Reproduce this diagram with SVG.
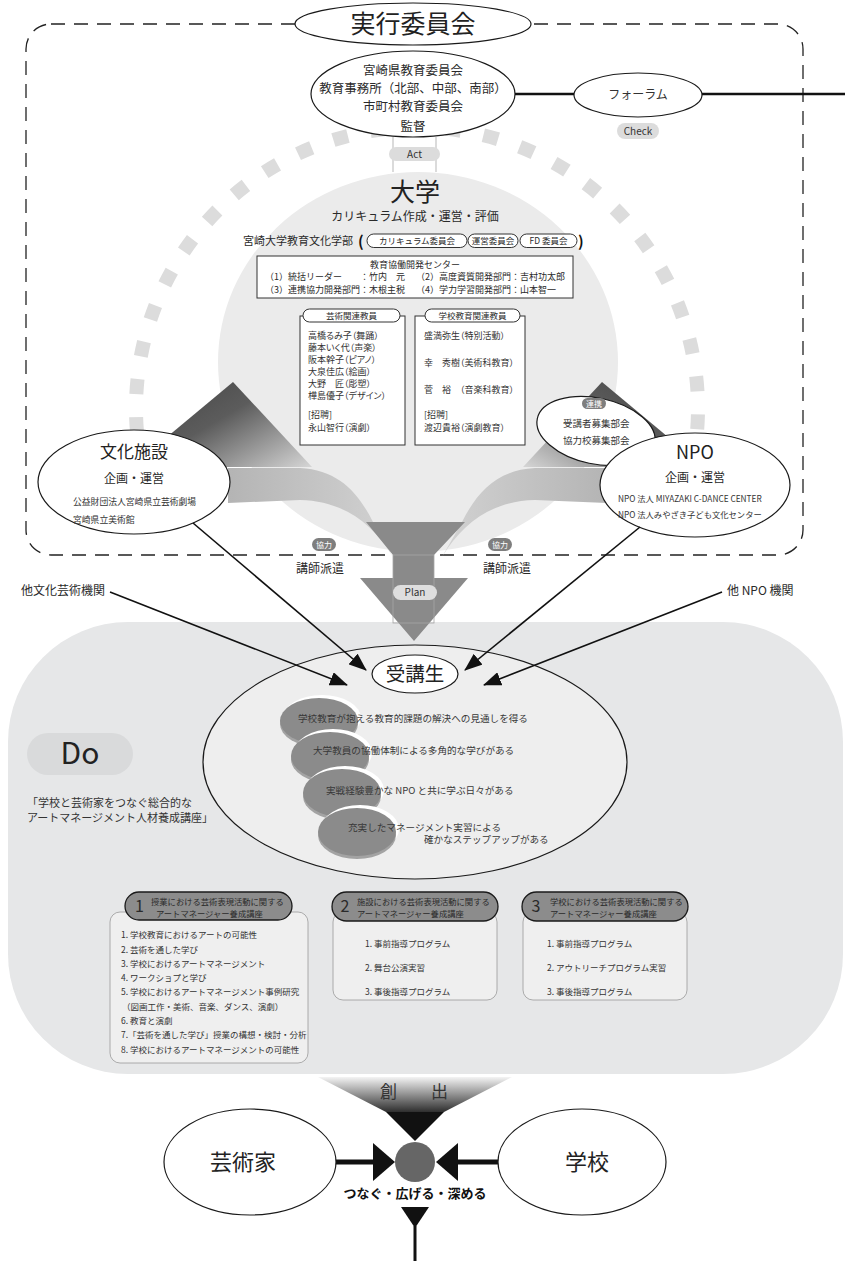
<svg xmlns="http://www.w3.org/2000/svg" width="845" height="1261" viewBox="0 0 845 1261">
<defs>
<style>
text{font-family:"Noto Sans CJK JP","Noto Sans",sans-serif;fill:#2a2a2a}
.c{text-anchor:middle}
.ol{fill:#fff;stroke:#1a1a1a;stroke-width:1.2}
.pill{fill:#dcdcdc}
.tag{fill:#7e7e7e}
.tagt{fill:#fff;font-size:8px;text-anchor:middle}
.box{fill:#fff;stroke:#333;stroke-width:1}
.cap{fill:#fff;stroke:#333;stroke-width:1}
.conn{stroke:#111;stroke-width:1.6;fill:none}
.hdr{fill:#8c8c8c;stroke:#1a1a1a;stroke-width:1.3}
.inbox{fill:#efefef;stroke:#9a9a9a;stroke-width:0.8}
.li{font-size:8.5px;fill:#333}
.ht{font-size:8.3px;fill:#2a2a2a}
.hn{font-size:16px;fill:#2a2a2a}
.nm{font-size:9px;fill:#333;font-feature-settings:"palt" 1}
.disc{fill:#8b8b8b}
.rim{fill:#fff}
.thk{fill:#a3a3a3}
.dt{font-size:9.6px;fill:#383838}
.ghost{fill:none;stroke:#a5a5a5;stroke-width:0.8}
</style>
<marker id="ah" viewBox="0 0 18 14" refX="17" refY="7" markerWidth="18" markerHeight="14" markerUnits="userSpaceOnUse" orient="auto">
<path d="M0,0 L18,7 L0,14 Z" fill="#111"/>
</marker>
<linearGradient id="gL" x1="0" y1="0" x2="1" y2="1">
<stop offset="0" stop-color="#474747"/><stop offset="0.4" stop-color="#5c5c5c"/><stop offset="1" stop-color="#d6d6d6"/>
</linearGradient>
<linearGradient id="gR" x1="1" y1="0" x2="0" y2="1">
<stop offset="0" stop-color="#474747"/><stop offset="0.4" stop-color="#5c5c5c"/><stop offset="1" stop-color="#d6d6d6"/>
</linearGradient>
<linearGradient id="bL" x1="0" y1="0" x2="1" y2="0">
<stop offset="0" stop-color="#b4b4b4"/><stop offset="1" stop-color="#d2d2d2"/>
</linearGradient>
<linearGradient id="bR" x1="1" y1="0" x2="0" y2="0">
<stop offset="0" stop-color="#b4b4b4"/><stop offset="1" stop-color="#d2d2d2"/>
</linearGradient>
<linearGradient id="gF" x1="0" y1="0" x2="0" y2="1">
<stop offset="0" stop-color="#f4f4f4"/><stop offset="1" stop-color="#2e2e2e"/>
</linearGradient>
</defs>

<!-- Do area background -->
<g id="do-area">
<rect x="8" y="622" width="835" height="452" rx="120" ry="120" fill="#e6e7e8"/>
<rect x="27" y="733" width="106" height="42" rx="21" fill="#d9dadb"/>
<text x="80" y="764" class="c" style="font-size:30px;fill:#222">Do</text>
<text x="27" y="807" style="font-size:11px;fill:#333">「学校と芸術家をつなぐ総合的な</text>
<text x="27" y="822" style="font-size:11px;fill:#333">アートマネージメント人材養成講座」</text>
</g>

<!-- committee frame -->
<g id="frame">
<rect x="26" y="24" width="777" height="531" rx="25" fill="none" stroke="#222" stroke-width="1.3" stroke-dasharray="14 9"/>
</g>

<!-- dashed grey arc -->
<path id="arc" d="M137 432 A281 281 0 1 1 697 432" fill="none" stroke="#dcdcdc" stroke-width="14" stroke-dasharray="15 23"/>

<!-- university -->
<g id="university">
<ellipse cx="418" cy="362" rx="200" ry="190" fill="#ebebeb"/>
<polygon points="167,437 233,382 312,467 175,467" fill="url(#gL)"/>
<polygon points="668,437 602,382 523,467 660,467" fill="url(#gR)"/>
<path d="M228,468 L300,468 C338,470 358,492 373,522 L393,557 C372,522 342,501 300,500 L228,503 Z" fill="url(#bL)"/>
<path d="M607,468 L535,468 C497,470 477,492 462,522 L442,557 C463,522 493,501 535,500 L607,503 Z" fill="url(#bR)"/>
<text x="415" y="201" class="c" style="font-size:25px;fill:#222">大学</text>
<text x="415" y="221" class="c" style="font-size:12px">カリキュラム作成・運営・評価</text>
<text x="243" y="245" style="font-size:11px">宮崎大学教育文化学部</text>
<text x="358" y="247" style="font-size:15px;font-weight:bold;fill:#111">(</text>
<rect x="367" y="234" width="100" height="13.5" rx="6.7" class="cap"/>
<text x="417" y="244" class="c" style="font-size:8.5px">カリキュラム委員会</text>
<rect x="468" y="234" width="50" height="13.5" rx="6.7" class="cap"/>
<text x="493" y="244" class="c" style="font-size:8.5px">運営委員会</text>
<rect x="520" y="234" width="57" height="13.5" rx="6.7" class="cap"/>
<text x="548.5" y="244" class="c" style="font-size:8.5px">FD 委員会</text>
<text x="578" y="247" style="font-size:15px;font-weight:bold;fill:#111">)</text>
</g>

<g id="center-box">
<rect x="257" y="256" width="316" height="42" class="box"/>
<text x="415" y="268" class="c" style="font-size:9px">教育協働開発センター</text>
<text x="265" y="280" style="font-size:9px">（1）統括リーダー　　：竹内　元</text>
<text x="416" y="280" style="font-size:9px">（2）高度資質開発部門：吉村功太郎</text>
<text x="265" y="293" style="font-size:9px">（3）連携協力開発部門：木根主税</text>
<text x="416" y="293" style="font-size:9px">（4）学力学習開発部門：山本智一</text>
</g>

<g id="arts-staff">
<rect x="300" y="316" width="105" height="129" class="box"/>
<rect x="303" y="309" width="97" height="13" rx="6.5" class="cap"/>
<text x="351.5" y="319" class="c" style="font-size:8.5px">芸術関連教員</text>
<text x="308" y="339" class="nm">高橋るみ子（舞踊）</text>
<text x="308" y="351" class="nm">藤本いく代（声楽）</text>
<text x="308" y="363" class="nm">阪本幹子（ピアノ）</text>
<text x="308" y="375" class="nm">大泉佳広（絵画）</text>
<text x="308" y="387" class="nm">大野　匠（彫塑）</text>
<text x="308" y="399" class="nm">樺島優子（デザイン）</text>
<text x="308" y="418" class="nm">[招聘]</text>
<text x="308" y="431" class="nm">永山智行（演劇）</text>
</g>

<g id="school-staff">
<rect x="415" y="316" width="110" height="129" class="box"/>
<rect x="425" y="309" width="95" height="13" rx="6.5" class="cap"/>
<text x="472.5" y="319" class="c" style="font-size:8.5px">学校教育関連教員</text>
<text x="424" y="339" class="nm">盛満弥生（特別活動）</text>
<text x="424" y="366" class="nm">幸　秀樹（美術科教育）</text>
<text x="424" y="393" class="nm">菅　裕　（音楽科教育）</text>
<text x="424" y="418" class="nm">[招聘]</text>
<text x="424" y="431" class="nm">渡辺貴裕（演劇教育）</text>
</g>

<!-- plan arrow -->
<g id="plan">
<polygon points="366,522 465,522 434,555 434,578 468,578 414,641 360,578 393,578 393,555" fill="#8a8a8a"/>
<rect x="393" y="555" width="41" height="68" class="ghost"/>
<rect x="393" y="585" width="44" height="15" rx="7.5" fill="#dedede"/>
<text x="415" y="596" class="c" style="font-size:10px;fill:#333">Plan</text>
</g>

<!-- top committee -->
<g id="committee-title">
<ellipse cx="413" cy="24" rx="118" ry="21" class="ol"/>
<text x="413" y="33" class="c" style="font-size:25px;fill:#222">実行委員会</text>
</g>

<g id="supervision">
<line x1="393" y1="137" x2="393" y2="172" class="ghost"/>
<line x1="436" y1="137" x2="436" y2="172" class="ghost"/>
<ellipse cx="413" cy="94" rx="102" ry="43" class="ol"/>
<text x="413" y="75" class="c" style="font-size:12.5px">宮崎県教育委員会</text>
<text x="413" y="93" class="c" style="font-size:12.5px">教育事務所（北部、中部、南部）</text>
<text x="413" y="111" class="c" style="font-size:12.5px">市町村教育委員会</text>
<text x="413" y="131" class="c" style="font-size:12.5px">監督</text>
<rect x="389" y="147" width="51" height="14" rx="7" class="pill"/>
<text x="414.5" y="158" class="c" style="font-size:10px;fill:#333">Act</text>
</g>

<g id="forum">
<ellipse cx="638" cy="95" rx="64" ry="22" class="ol"/>
<text x="638" y="99" class="c" style="font-size:12px;fill:#333">フォーラム</text>
<rect x="617" y="123" width="42" height="16" rx="8" class="pill"/>
<text x="638" y="135" class="c" style="font-size:10px;fill:#333">Check</text>
</g>

<g id="liaison">
<ellipse cx="596" cy="431" rx="60" ry="33" transform="rotate(12 596 431)" class="ol"/>
<rect x="582" y="398" width="24" height="11" rx="5.5" class="tag"/>
<text x="594" y="407" class="tagt">連携</text>
<text x="563" y="427" style="font-size:9.5px;fill:#333">受講者募集部会</text>
<text x="563" y="444" style="font-size:9.5px;fill:#333">協力校募集部会</text>
</g>

<g id="npo">
<ellipse cx="695" cy="485" rx="95" ry="52" class="ol"/>
<text x="695" y="459" class="c" style="font-size:18px;fill:#222">NPO</text>
<text x="695" y="482" class="c" style="font-size:12px">企画・運営</text>
<text x="618" y="502" style="font-size:8.3px;fill:#333">NPO 法人 MIYAZAKI C-DANCE CENTER</text>
<text x="618" y="518" style="font-size:8.3px;fill:#333">NPO 法人みやざき子ども文化センター</text>
</g>

<g id="culture">
<ellipse cx="134" cy="482" rx="96" ry="52" class="ol"/>
<text x="134" y="458" class="c" style="font-size:17px;fill:#222">文化施設</text>
<text x="134" y="483" class="c" style="font-size:12px">企画・運営</text>
<text x="73" y="505" style="font-size:8.8px;fill:#333">公益財団法人宮崎県立芸術劇場</text>
<text x="73" y="523" style="font-size:8.8px;fill:#333">宮崎県立美術館</text>
</g>

<g id="dispatch">
<rect x="312" y="538" width="24" height="13" rx="6.5" class="tag"/>
<text x="324" y="548" class="tagt">協力</text>
<rect x="488" y="538" width="24" height="13" rx="6.5" class="tag"/>
<text x="500" y="548" class="tagt">協力</text>
<text x="320" y="573" class="c" style="font-size:12px">講師派遣</text>
<text x="507" y="573" class="c" style="font-size:12px">講師派遣</text>
<text x="105" y="595" style="font-size:12px;text-anchor:end">他文化芸術機関</text>
<text x="727" y="595" style="font-size:12px">他 NPO 機関</text>
</g>

<!-- students -->
<g id="students">
<ellipse cx="415" cy="762" rx="212" ry="117" fill="#eeeeee" stroke="#1a1a1a" stroke-width="1.2"/>
<ellipse cx="322" cy="718" rx="39" ry="23" class="rim"/>
<ellipse cx="319" cy="724" rx="39" ry="23" class="thk"/>
<ellipse cx="319" cy="721" rx="39" ry="23" class="disc"/>
<ellipse cx="333" cy="753" rx="39" ry="24" class="rim"/>
<ellipse cx="330" cy="759" rx="39" ry="24" class="thk"/>
<ellipse cx="330" cy="756" rx="39" ry="24" class="disc"/>
<ellipse cx="345" cy="790" rx="39" ry="24" class="rim"/>
<ellipse cx="342" cy="796" rx="39" ry="24" class="thk"/>
<ellipse cx="342" cy="793" rx="39" ry="24" class="disc"/>
<ellipse cx="360" cy="829" rx="39" ry="24" class="rim"/>
<ellipse cx="357" cy="835" rx="39" ry="24" class="thk"/>
<ellipse cx="357" cy="832" rx="39" ry="24" class="disc"/>
<text x="298" y="722" class="dt">学校教育が抱える教育的課題の解決への見通しを得る</text>
<text x="313" y="754" class="dt">大学教員の協働体制による多角的な学びがある</text>
<text x="326" y="794" class="dt">実戦経験豊かな NPO と共に学ぶ日々がある</text>
<text x="348" y="831" class="dt">充実したマネージメント実習による</text>
<text x="424" y="843" class="dt">確かなステップアップがある</text>
</g>

<g id="connectors">
<line x1="515" y1="94" x2="574" y2="94" stroke="#111" stroke-width="2.5"/>
<line x1="702" y1="94" x2="845" y2="94" stroke="#111" stroke-width="2.5"/>
<line x1="110" y1="592" x2="347" y2="685" class="conn" marker-end="url(#ah)"/>
<line x1="193" y1="523" x2="366" y2="670" class="conn" marker-end="url(#ah)"/>
<line x1="640" y1="527" x2="465" y2="670" class="conn" marker-end="url(#ah)"/>
<line x1="722" y1="592" x2="484" y2="685" class="conn" marker-end="url(#ah)"/>
<line x1="334" y1="1162" x2="376" y2="1162" stroke="#111" stroke-width="5"/>
<polygon points="373,1143 373,1181 395,1162" fill="#111"/>
<line x1="456" y1="1162" x2="499" y2="1162" stroke="#111" stroke-width="5"/>
<polygon points="458,1143 458,1181 436,1162" fill="#111"/>
<polygon points="401,1207 429,1207 415,1228" fill="#111"/>
<line x1="415" y1="1226" x2="415" y2="1261" stroke="#111" stroke-width="3"/>
</g>

<g id="receiver">
<ellipse cx="415" cy="674" rx="43" ry="19" class="ol"/>
<text x="415" y="681" class="c" style="font-size:19.5px;fill:#222">受講生</text>
</g>

<!-- courses -->
<g id="course1">
<rect x="110" y="912" width="198" height="151" rx="10" class="inbox"/>
<rect x="125" y="892" width="167" height="28" rx="14" class="hdr"/>
<text x="139.5" y="912" class="c hn">1</text>
<text x="151" y="905" class="ht">授業における芸術表現活動に関する</text>
<text x="156" y="917" class="ht">アートマネージャー養成講座</text>
<text x="121" y="938" class="li">1. 学校教育におけるアートの可能性</text>
<text x="121" y="953" class="li">2. 芸術を通した学び</text>
<text x="121" y="967" class="li">3. 学校におけるアートマネージメント</text>
<text x="121" y="981" class="li">4. ワークショプと学び</text>
<text x="121" y="995" class="li">5. 学校におけるアートマネージメント事例研究</text>
<text x="122" y="1010" class="li">（図画工作・美術、音楽、ダンス、演劇）</text>
<text x="121" y="1024" class="li">6. 教育と演劇</text>
<text x="121" y="1038" class="li">7.「芸術を通した学び」授業の構想・検討・分析</text>
<text x="121" y="1053" class="li">8. 学校におけるアートマネージメントの可能性</text>
</g>

<g id="course2">
<rect x="333" y="912" width="164" height="88" rx="10" class="inbox"/>
<rect x="332" y="892" width="166" height="29" rx="14.5" class="hdr"/>
<text x="345" y="912" class="c hn">2</text>
<text x="357" y="905" class="ht">施設における芸術表現活動に関する</text>
<text x="357" y="917" class="ht">アートマネージャー養成講座</text>
<text x="365" y="947" class="li">1. 事前指導プログラム</text>
<text x="365" y="971" class="li">2. 舞台公演実習</text>
<text x="365" y="995" class="li">3. 事後指導プログラム</text>
</g>

<g id="course3">
<rect x="523" y="912" width="164" height="88" rx="10" class="inbox"/>
<rect x="522" y="892" width="166" height="29" rx="14.5" class="hdr"/>
<text x="536" y="912" class="c hn">3</text>
<text x="550" y="905" class="ht">学校における芸術表現活動に関する</text>
<text x="550" y="917" class="ht">アートマネージャー養成講座</text>
<text x="547" y="947" class="li">1. 事前指導プログラム</text>
<text x="547" y="971" class="li">2. アウトリーチプログラム実習</text>
<text x="547" y="995" class="li">3. 事後指導プログラム</text>
</g>

<!-- bottom -->
<g id="creation">
<polygon points="318,1077 512,1077 444,1112 386,1112" fill="url(#gF)"/>
<text x="380" y="1098" style="font-size:17px;letter-spacing:8.5px;fill:#333">創　出</text>
<polygon points="386,1112 444,1112 415,1141" fill="#111"/>
</g>

<g id="artist">
<ellipse cx="250" cy="1162" rx="86" ry="53" class="ol"/>
<text x="243" y="1170" class="c" style="font-size:22px;fill:#222">芸術家</text>
</g>

<g id="school">
<ellipse cx="582" cy="1162" rx="84" ry="53" class="ol"/>
<text x="587" y="1170" class="c" style="font-size:22px;fill:#222">学校</text>
</g>

<g id="hub">
<ellipse cx="415" cy="1162" rx="20" ry="20" fill="#666"/>
<text x="415" y="1198" class="c" style="font-size:13px;font-weight:bold;fill:#111">つなぐ・広げる・深める</text>
</g>
</svg>
